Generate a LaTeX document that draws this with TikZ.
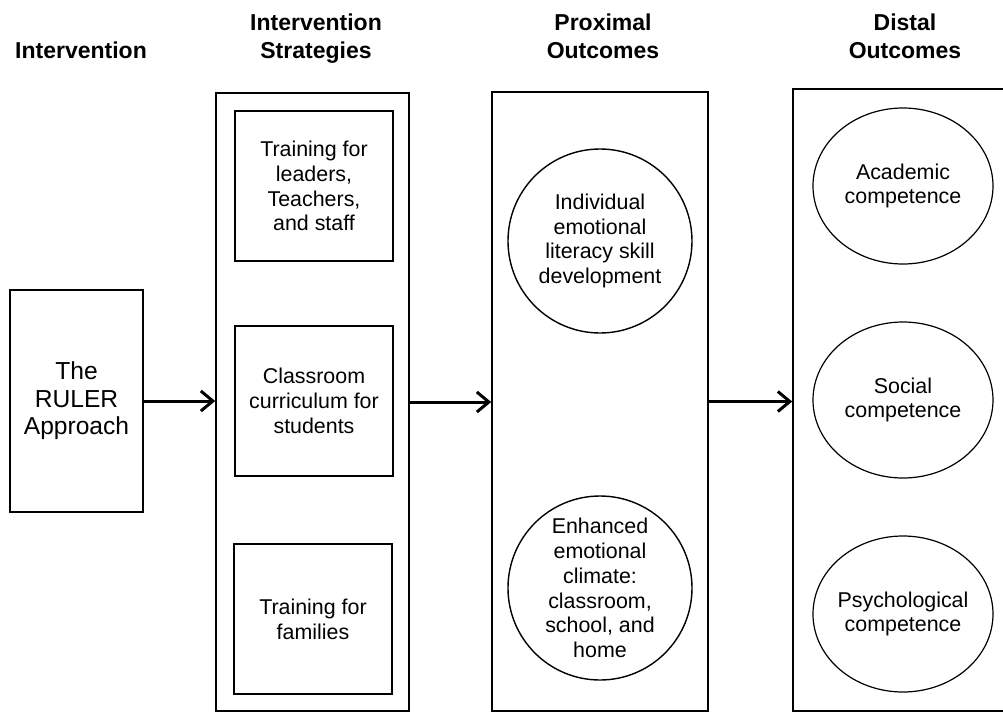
\documentclass[tikz,border=0pt]{standalone}
\usepackage{fontspec}
\setmainfont{Liberation Sans}
\usetikzlibrary{arrows.meta, shapes.geometric}

\tikzset{
  body/.style={align=center, font=\fontsize{10.7}{12.4}\selectfont},
  heading/.style={anchor=base, align=center, font=\bfseries\fontsize{11.5}{14}\selectfont},
  column/.style={draw, line width=0.8pt, inner sep=0pt},
  strategy/.style={draw, body, line width=0.7pt, minimum width=79pt, minimum height=75pt},
  proximal/.style={circle, draw, body, line width=0.7pt, inner sep=0pt, minimum size=92pt},
  distal/.style={ellipse, draw, body, line width=0.6pt, inner xsep=-4pt, inner ysep=0pt, minimum width=90pt, minimum height=78pt},
  flow/.style={line width=1.5pt, -{Straight Barb[length=6pt, width=10pt, line width=1.5pt]}}
}

\begin{document}
\begin{tikzpicture}[x=0.5pt, y=-0.5pt]
      \useasboundingbox (0,0) rectangle (1003,713);

      \node[heading] (hdrInt) at (81,58) {Intervention};
      \node[heading] (hdrStrat) at (316,58) {Intervention\\Strategies};
      \node[heading] (hdrProx) at (603,58) {Proximal\\Outcomes};
      \node[heading] (hdrDist) at (905,58) {Distal\\Outcomes};

      \node[column, minimum width=66.5pt, minimum height=111pt, align=center,
            font=\fontsize{12.3}{13.8}\selectfont] (ruler) at (76.5,401) {The\\RULER\\Approach};

      \node[column, minimum width=96.5pt, minimum height=309pt] (strat) at (312.5,402) {};
      \node[strategy] (leaders) at (314,186) {Training for\\leaders,\\Teachers,\\and staff};
      \node[strategy] (classroom) at (314,401) {Classroom\\curriculum for\\students};
      \node[strategy] (families) at (313,619) {Training for\\families};

      \node[column, minimum width=108pt, minimum height=309.5pt] (prox) at (600,401.5) {};
      \node[proximal] (skills) at (600,241) {Individual\\emotional\\literacy skill\\development};
      \node[proximal] (climate) at (600,588) {Enhanced\\emotional\\climate:\\classroom,\\school, and\\home};

      \node[column, minimum width=108.5pt, minimum height=311pt] (dist) at (901.5,400) {};
      \node[distal] (academic) at (903,186) {Academic\\competence};
      \node[distal] (social) at (903,400) {Social\\competence};
      \node[distal] (psych) at (903,614) {Psychological\\competence};

      \draw[flow] (ruler.east) -- (ruler.east -| strat.west);
      \draw[flow] (strat.east) -- (strat.east -| prox.west);
      \draw[flow] (prox.east) -- (prox.east -| dist.west);
    \end{tikzpicture}
\end{document}
